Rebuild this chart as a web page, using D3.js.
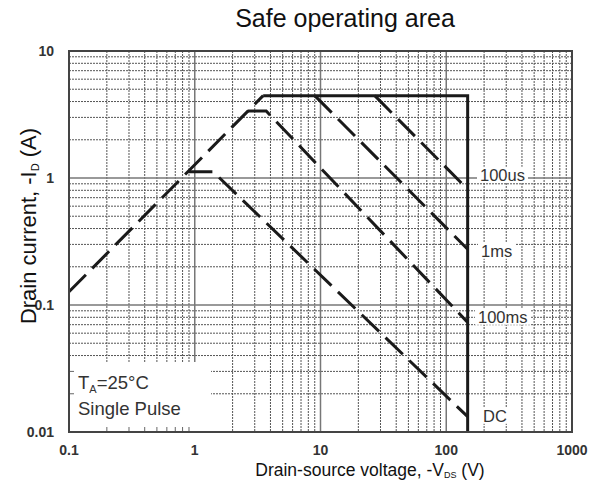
<!DOCTYPE html>
<html lang="en">
<head>
<meta charset="UTF-8">
<title>Safe operating area</title>
<script src="https://d3js.org/d3.v7.min.js"></script>
<style>
    body { margin: 0; background: #fff; }
    svg { display: block; font-family: Arial, 'Liberation Sans', sans-serif; }
    .tick-label { font-size: 14px; font-weight: bold; fill: #333; }
</style>
</head>
<body>
<div id="chart"></div>
<script>
// axis ticks
const xTicks = [0.1, 1, 10, 100, 1000];
const yTicks = [0.01, 0.1, 1, 10];
const xTickLabels = ["0.1", "1", "10", "100", "1000"];
const yTickLabels = ["0.01", "0.1", "1", "10"];

// Rds(on) limit line (V, A)
const rdsV = [0.1, 3.5];
const rdsI = [0.127, 4.45];

// outer limit: current limit then voltage limit
const limitV = [3.5, 148, 148];
const limitI = [4.45, 4.45, 0.01];

// pulse curves
const curveNames = ["100us", "1ms", "100ms", "DC"];
const curveV = [
    [27, 148],
    [9, 148],
    [2.65, 3.7, 148],
    [0.89, 1.4, 148]
];
const curveI = [
    [4.45, 0.815],
    [4.45, 0.275],
    [3.37, 3.37, 0.073],
    [1.12, 1.12, 0.0132]
];

const W = 601, H = 492;
const pLeft = 69, pRight = 572, pTop = 51, pBottom = 432;

const svg = d3.select("#chart").append("svg")
    .attr("width", W)
    .attr("height", H);

const x = d3.scaleLog().domain([0.1, 1000]).range([pLeft, pRight]);
const y = d3.scaleLog().domain([0.01, 10]).range([pBottom, pTop]);

// grid values: 2..9 within each decade
function gridValues(dom) {
    const out = [];
    for (let d = dom[0]; d < dom[1] * 0.999; d *= 10) {
        for (let k = 2; k <= 9; k++) out.push(d * k);
    }
    return out;
}
const xMinor = gridValues(x.domain());
const yMinor = gridValues(y.domain());

const grid = svg.append("g");

grid.selectAll(".vminor").data(xMinor).enter().append("line")
    .attr("x1", d => x(d)).attr("x2", d => x(d))
    .attr("y1", pTop).attr("y2", pBottom)
    .attr("stroke", "#555").attr("stroke-width", 1)
    .attr("stroke-dasharray", "2,1");

grid.selectAll(".hminor").data(yMinor).enter().append("line")
    .attr("y1", d => y(d)).attr("y2", d => y(d))
    .attr("x1", pLeft).attr("x2", pRight)
    .attr("stroke", "#555").attr("stroke-width", 1)
    .attr("stroke-dasharray", "2,1");

grid.selectAll(".vmajor").data(xTicks).enter().append("line")
    .attr("x1", d => x(d)).attr("x2", d => x(d))
    .attr("y1", pTop).attr("y2", pBottom)
    .attr("stroke", "#777").attr("stroke-width", 1.5);

grid.selectAll(".hmajor").data(yTicks).enter().append("line")
    .attr("y1", d => y(d)).attr("y2", d => y(d))
    .attr("x1", pLeft).attr("x2", pRight)
    .attr("stroke", "#777").attr("stroke-width", 1.5);

// note box in lower left hides the grid, leaving short stubs
const boxX2 = 211, boxY1 = 362;
svg.append("rect")
    .attr("x", pLeft).attr("y", boxY1)
    .attr("width", boxX2 - pLeft).attr("height", pBottom - boxY1)
    .attr("fill", "#fff");

svg.selectAll(".bstub").data(xMinor.filter(d => x(d) < boxX2)).enter().append("line")
    .attr("x1", d => x(d)).attr("x2", d => x(d))
    .attr("y1", pBottom - 5).attr("y2", pBottom)
    .attr("stroke", "#666");

svg.selectAll(".lstub").data(yMinor.filter(d => y(d) > boxY1)).enter().append("line")
    .attr("y1", d => y(d)).attr("y2", d => y(d))
    .attr("x1", pLeft).attr("x2", pLeft + 5)
    .attr("stroke", "#666");

const note = svg.append("text")
    .attr("x", 78).attr("y", 389)
    .attr("font-size", 18.5).attr("fill", "#333");
note.append("tspan").text("T");
note.append("tspan").attr("font-size", 11).attr("dy", 4).text("A");
note.append("tspan").attr("dy", -4).text("=25°C");
svg.append("text")
    .attr("x", 78).attr("y", 415)
    .attr("font-size", 18.5).attr("fill", "#333")
    .text("Single Pulse");

// curve labels with white backing
const labelX = [480, 481, 478, 483];
const labelY = [175, 251, 317, 416];
curveNames.forEach((name, i) => {
    const t = svg.append("text")
        .attr("x", labelX[i]).attr("y", labelY[i])
        .attr("dy", "0.35em")
        .attr("font-size", 16.5).attr("fill", "#333")
        .text(name);
    const b = t.node().getBBox();
    svg.insert("rect", () => t.node())
        .attr("x", b.x - 3).attr("y", b.y + 1)
        .attr("width", b.width + 6).attr("height", b.height - 2)
        .attr("fill", "#fff");
});

// curves
const line = d3.line().x(d => x(d[0])).y(d => y(d[1]));
const dash = "24,9";

svg.append("path")
    .datum(d3.zip(rdsV, rdsI))
    .attr("d", line)
    .attr("fill", "none").attr("stroke", "#1a1a1a")
    .attr("stroke-width", 3).attr("stroke-dasharray", dash);

curveNames.forEach((name, i) => {
    svg.append("path")
        .datum(d3.zip(curveV[i], curveI[i]))
        .attr("d", line)
        .attr("fill", "none").attr("stroke", "#1a1a1a")
        .attr("stroke-width", 3).attr("stroke-dasharray", dash);
});

svg.append("path")
    .datum(d3.zip(limitV, limitI))
    .attr("d", line)
    .attr("fill", "none").attr("stroke", "#1a1a1a")
    .attr("stroke-width", 3);

// frame
svg.append("rect")
    .attr("x", pLeft).attr("y", pTop)
    .attr("width", pRight - pLeft).attr("height", pBottom - pTop)
    .attr("fill", "none").attr("stroke", "#444").attr("stroke-width", 2);

// tick labels
svg.selectAll(".xl").data(xTicks).enter().append("text")
    .attr("class", "tick-label")
    .attr("x", d => x(d)).attr("y", 450)
    .attr("dy", "0.35em").attr("text-anchor", "middle")
    .text((d, i) => xTickLabels[i]);

svg.selectAll(".yl").data(yTicks).enter().append("text")
    .attr("class", "tick-label")
    .attr("x", 54).attr("y", d => y(d))
    .attr("dy", "0.35em").attr("text-anchor", "end")
    .text((d, i) => yTickLabels[i]);

// title and axis titles
svg.append("text")
    .attr("x", 345).attr("y", 27)
    .attr("text-anchor", "middle")
    .attr("font-size", 25).attr("fill", "#111")
    .text("Safe operating area");

const xt = svg.append("text")
    .attr("x", 370).attr("y", 476)
    .attr("text-anchor", "middle")
    .attr("font-size", 17.5).attr("fill", "#111");
xt.append("tspan").text("Drain-source voltage, -V");
xt.append("tspan").attr("font-size", 9).attr("dy", 2).text("DS");
xt.append("tspan").attr("dy", -2).text(" (V)");

const yt = svg.append("text")
    .attr("transform", "translate(36,226) rotate(-90)")
    .attr("text-anchor", "middle")
    .attr("font-size", 22).attr("fill", "#111");
yt.append("tspan").text("Drain current, -I");
yt.append("tspan").attr("font-size", 11).attr("dy", 3).text("D");
yt.append("tspan").attr("dy", -3).text(" (A)");
</script>
</body>
</html>
